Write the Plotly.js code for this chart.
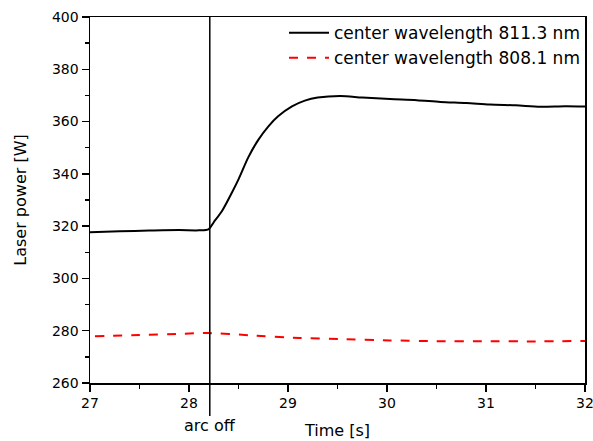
<!DOCTYPE html>
<html>
<head>
<meta charset="utf-8">
<script src="https://cdn.plot.ly/plotly-3.0.1.min.js"></script>
<style>html,body{margin:0;padding:0;background:#fff;}#chart{width:593px;height:441px;}</style>
</head>
<body>
<div id="chart"></div>
<script>
// Series 1: center wavelength 811.3 nm
const time811 = [27.0, 27.3, 27.6, 27.9, 28.1, 28.2, 28.25, 28.33, 28.43, 28.5, 28.6, 28.7, 28.8, 28.9, 29.04, 29.17, 29.3, 29.53, 29.75, 30.03, 30.3, 30.54, 30.8, 31.04, 31.3, 31.55, 31.8, 32.0];
const power811 = [317.7, 318.0, 318.3, 318.5, 318.4, 318.9, 321.5, 325.6, 332.6, 337.9, 346.4, 353.0, 358.1, 362.0, 365.8, 368.0, 369.2, 369.8, 369.2, 368.6, 368.2, 367.5, 367.1, 366.5, 366.2, 365.7, 365.9, 365.8];
// Series 2: center wavelength 808.1 nm
const time808 = [27.05, 27.5, 27.9, 28.2, 28.6, 29.12, 29.53, 30.03, 30.5, 31.0, 31.5, 32.0];
const power808 = [277.9, 278.4, 278.8, 279.1, 278.3, 277.2, 276.8, 276.3, 276.0, 276.0, 275.9, 276.1];
const seriesNames = ["center wavelength 811.3 nm", "center wavelength 808.1 nm"];
const arcOffTime = 28.21;
const arcOffLabel = "arc off";
const xTitle = "Time [s]";
const yTitle = "Laser power [W]";

const FONT = "DejaVu Sans, Arial, sans-serif";

const traces = [
  {x: time811, y: power811, name: seriesNames[0], mode: "lines",
   line: {color: "#000000", width: 2, shape: "spline", smoothing: 0.8}},
  {x: time808, y: power808, name: seriesNames[1], mode: "lines",
   line: {color: "#ff0000", width: 2, dash: "9px,9px", shape: "spline", smoothing: 0.6}}
];

const axisCommon = {
  showline: true, mirror: true, linecolor: "#000", linewidth: 1.5,
  ticks: "outside", ticklen: 7, tickwidth: 1.5, tickcolor: "#000",
  showgrid: false, zeroline: false, ticklabeloverflow: "allow",
  tickfont: {family: FONT, size: 14, color: "#000"}
};

const layout = {
  width: 593, height: 441,
  margin: {l: 90, r: 8, t: 17, b: 58},
  paper_bgcolor: "#fff", plot_bgcolor: "#fff",
  showlegend: true,
  legend: {x: 1, y: 1.005, xanchor: "right", yanchor: "top", bgcolor: "rgba(0,0,0,0)",
           font: {family: FONT, size: 17, color: "#000"}, tracegroupgap: 0,
           itemwidth: 40},
  xaxis: Object.assign({}, axisCommon, {
    range: [27, 32], dtick: 1, tick0: 27,
    minor: {dtick: 0.5, ticks: "outside", ticklen: 4, tickwidth: 1.5, tickcolor: "#000"},
    title: {text: xTitle, font: {family: FONT, size: 16, color: "#000"}, standoff: 14}
  }),
  yaxis: Object.assign({}, axisCommon, {
    range: [260, 400], dtick: 20, tick0: 260,
    minor: {dtick: 10, ticks: "outside", ticklen: 4, tickwidth: 1.5, tickcolor: "#000"},
    title: {text: yTitle, font: {family: FONT, size: 16, color: "#000"}, standoff: 21}
  }),
  shapes: [
    {type: "line", xref: "x", yref: "paper", x0: arcOffTime, x1: arcOffTime, y0: -0.09, y1: 1,
     line: {color: "#000", width: 1.5}}
  ],
  annotations: [
    {xref: "x", yref: "paper", x: arcOffTime, y: -0.115, text: arcOffLabel, showarrow: false,
     xanchor: "center", yanchor: "middle", font: {family: FONT, size: 16, color: "#000"}}
  ]
};

Plotly.newPlot("chart", traces, layout, {displayModeBar: false, staticPlot: true});
</script>
</body>
</html>
